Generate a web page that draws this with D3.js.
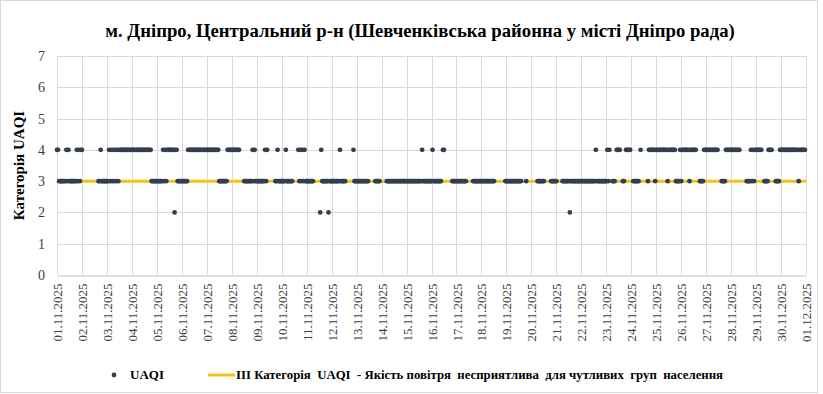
<!DOCTYPE html>
<html>
  <head>
    <meta charset="utf-8">
    <title>UAQI Дніпро</title>
    <style>
body {
  margin: 0;
  background: #fff;
}
    </style>
  </head>
  <body>
    <div id="chart"></div>
    <script src="https://cdn.jsdelivr.net/npm/d3@7/dist/d3.min.js"></script>
    <script>

    var title = 'м. Дніпро, Центральний р-н (Шевченківська районна у місті Дніпро рада)';
    var yTitle = 'Категорія UAQI';
    var seriesName = 'UAQI';
    var thresholdName = 'ІІІ Категорія  UAQI  - Якість повітря  несприятлива  для чутливих  груп  населення';
    var thresholdValue = 3;

    var dayLabels = ['01.11.2025','02.11.2025','03.11.2025','04.11.2025','05.11.2025','06.11.2025',
      '07.11.2025','08.11.2025','09.11.2025','10.11.2025','11.11.2025','12.11.2025','13.11.2025',
      '14.11.2025','15.11.2025','16.11.2025','17.11.2025','18.11.2025','19.11.2025','20.11.2025',
      '21.11.2025','22.11.2025','23.11.2025','24.11.2025','25.11.2025','26.11.2025','27.11.2025',
      '28.11.2025','29.11.2025','30.11.2025','01.12.2025'];

    var yTicks = [0, 1, 2, 3, 4, 5, 6, 7];

    // hourly UAQI category, one string per day (24 hours), '-' = no data
    var hourlyByDay = [
      '443333333434333333343434',  // 01.11
      '4---------------33433333',  // 02.11
      '334343434343444444444444',  // 03.11
      '444444444444444444433333',  // 04.11
      '333333434344444442443333',  // 05.11
      '333333444444444444444444',  // 06.11
      '444444444444333333334444',  // 07.11
      '44444444----333333334343',  // 08.11
      '33333333434-------334333',  // 09.11
      '33334333333-----43434343',  // 10.11
      '3333333------24333333233',  // 11.11
      '33333333433333-------433',  // 12.11
      '333333333333------33333-',  // 13.11
      '-----3333333333333333333',  // 14.11
      '333333333333333433333333',  // 15.11
      '3433333333-44-------3333',  // 16.11
      '3333333333------33333333',  // 17.11
      '3333333333333----------3',  // 18.11
      '333333333333333----3----',  // 19.11
      '------3333333------33333',  // 20.11
      '3-----333333323333333333',  // 21.11
      '333333333333334333333333',  // 22.11
      '3434--333-4444--33-44444',  // 23.11
      '--333333-4------34444443',  // 24.11
      '444444444443444444433334',  // 25.11
      '344444443444444---333344',  // 26.11
      '444444444444---333344444',  // 27.11
      '444444444------333343434',  // 28.11
      '444444--33334444---33334',  // 29.11
      '444444444444444443444444'   // 30.11
    ];

    var width = 823,
        height = 394,
        margin = {left: 57, right: 17, top: 56, bottom: 119};

    var serif = 'Liberation Serif';

    var start = new Date(Date.UTC(2025, 10, 1)),
        end = new Date(Date.UTC(2025, 11, 1));

    var points = [];
    hourlyByDay.forEach(function(day, d) {
      day.split('').forEach(function(c, h) {
        if (c === '-') return;
        points.push({
          t: new Date(start.getTime() + (d * 24 + h) * 3600000),
          v: +c
        });
      });
    });

    var x = d3.scaleUtc()
        .domain([start, end])
        .range([margin.left, width - margin.right]);

    var y = d3.scaleLinear()
        .domain([0, 7])
        .range([height - margin.bottom, margin.top]);

    var svg = d3.select('#chart').append('svg')
        .attr('width', width)
        .attr('height', height)
        .style('font-family', serif);

    svg.append('rect')
        .attr('x', 0.5)
        .attr('y', 0.5)
        .attr('width', 817)
        .attr('height', 392)
        .style('fill', '#fff')
        .style('stroke', '#d9d9d9');

    var dayTicks = d3.utcDay.range(start, d3.utcDay.offset(end, 1));

    // grid
    svg.append('g')
        .selectAll('line')
        .data(yTicks.slice(1))
        .enter()
        .append('line')
        .attr('x1', x.range()[0])
        .attr('x2', x.range()[1])
        .attr('y1', function(d) { return Math.round(y(d)) + 0.5; })
        .attr('y2', function(d) { return Math.round(y(d)) + 0.5; })
        .style('stroke', '#d9d9d9');

    svg.append('g')
        .selectAll('line')
        .data(dayTicks)
        .enter()
        .append('line')
        .attr('x1', function(d) { return Math.round(x(d)) + 0.5; })
        .attr('x2', function(d) { return Math.round(x(d)) + 0.5; })
        .attr('y1', y(7))
        .attr('y2', y(0))
        .style('stroke', '#d9d9d9');

    // x axis
    var xAxis = svg.append('g')
        .attr('transform', 'translate(0,' + (Math.round(y(0)) + 0.5) + ')')
        .call(d3.axisBottom(x)
          .tickValues(dayTicks)
          .tickSize(0)
          .tickFormat(function(d, i) { return dayLabels[i]; }));
    xAxis.attr('font-family', serif);
    xAxis.select('.domain').style('stroke', '#bfbfbf');
    xAxis.selectAll('text')
        .attr('transform', 'rotate(-90)')
        .attr('x', -8)
        .attr('y', 0)
        .attr('dy', '0.35em')
        .style('text-anchor', 'end')
        .style('font-family', serif)
        .style('font-size', '13px')
        .style('fill', '#404040');

    // y axis
    var yAxis = svg.append('g')
        .attr('transform', 'translate(' + margin.left + ',0)')
        .call(d3.axisLeft(y)
          .tickValues(yTicks)
          .tickFormat(d3.format('d'))
          .tickSize(0)
          .tickPadding(12));
    yAxis.attr('font-family', serif);
    yAxis.select('.domain').remove();
    yAxis.selectAll('text')
        .style('font-family', serif)
        .style('font-size', '14px')
        .style('fill', '#404040');

    // threshold line
    svg.append('line')
        .attr('x1', x(start))
        .attr('x2', x(end))
        .attr('y1', y(thresholdValue))
        .attr('y2', y(thresholdValue))
        .style('stroke', '#f5c01a')
        .style('stroke-width', 3);

    // points
    svg.append('g')
        .selectAll('circle')
        .data(points)
        .enter()
        .append('circle')
        .attr('cx', function(d) { return x(d.t); })
        .attr('cy', function(d) { return y(d.v); })
        .attr('r', 2.4)
        .style('fill', '#333f50');

    // title
    svg.append('text')
        .attr('x', 420)
        .attr('y', 37)
        .style('text-anchor', 'middle')
        .style('font-family', serif)
        .style('font-weight', 'bold')
        .style('font-size', '18.7px')
        .style('fill', '#000')
        .text(title);

    svg.append('text')
        .attr('transform', 'translate(24,' + ((y(0) + y(7)) / 2) + ') rotate(-90)')
        .style('text-anchor', 'middle')
        .style('font-family', serif)
        .style('font-weight', 'bold')
        .style('font-size', '15px')
        .style('fill', '#000')
        .text(yTitle);

    // legend
    var legend = svg.append('g').attr('transform', 'translate(0,376)');
    legend.append('circle')
        .attr('cx', 114)
        .attr('cy', -1)
        .attr('r', 2.4)
        .style('fill', '#333f50');
    legend.append('text')
        .attr('x', 130)
        .attr('y', 3)
        .style('font-family', serif)
        .style('font-weight', 'bold')
        .style('font-size', '13px')
        .text(seriesName);
    legend.append('line')
        .attr('x1', 208)
        .attr('x2', 235)
        .attr('y1', -1)
        .attr('y2', -1)
        .style('stroke', '#f5c01a')
        .style('stroke-width', 3);
    legend.append('text')
        .attr('x', 236)
        .attr('y', 3)
        .attr('xml:space', 'preserve')
        .style('white-space', 'pre')
        .style('font-family', serif)
        .style('font-weight', 'bold')
        .style('font-size', '12.8px')
        .text(thresholdName);

    </script>
  </body>
</html>
